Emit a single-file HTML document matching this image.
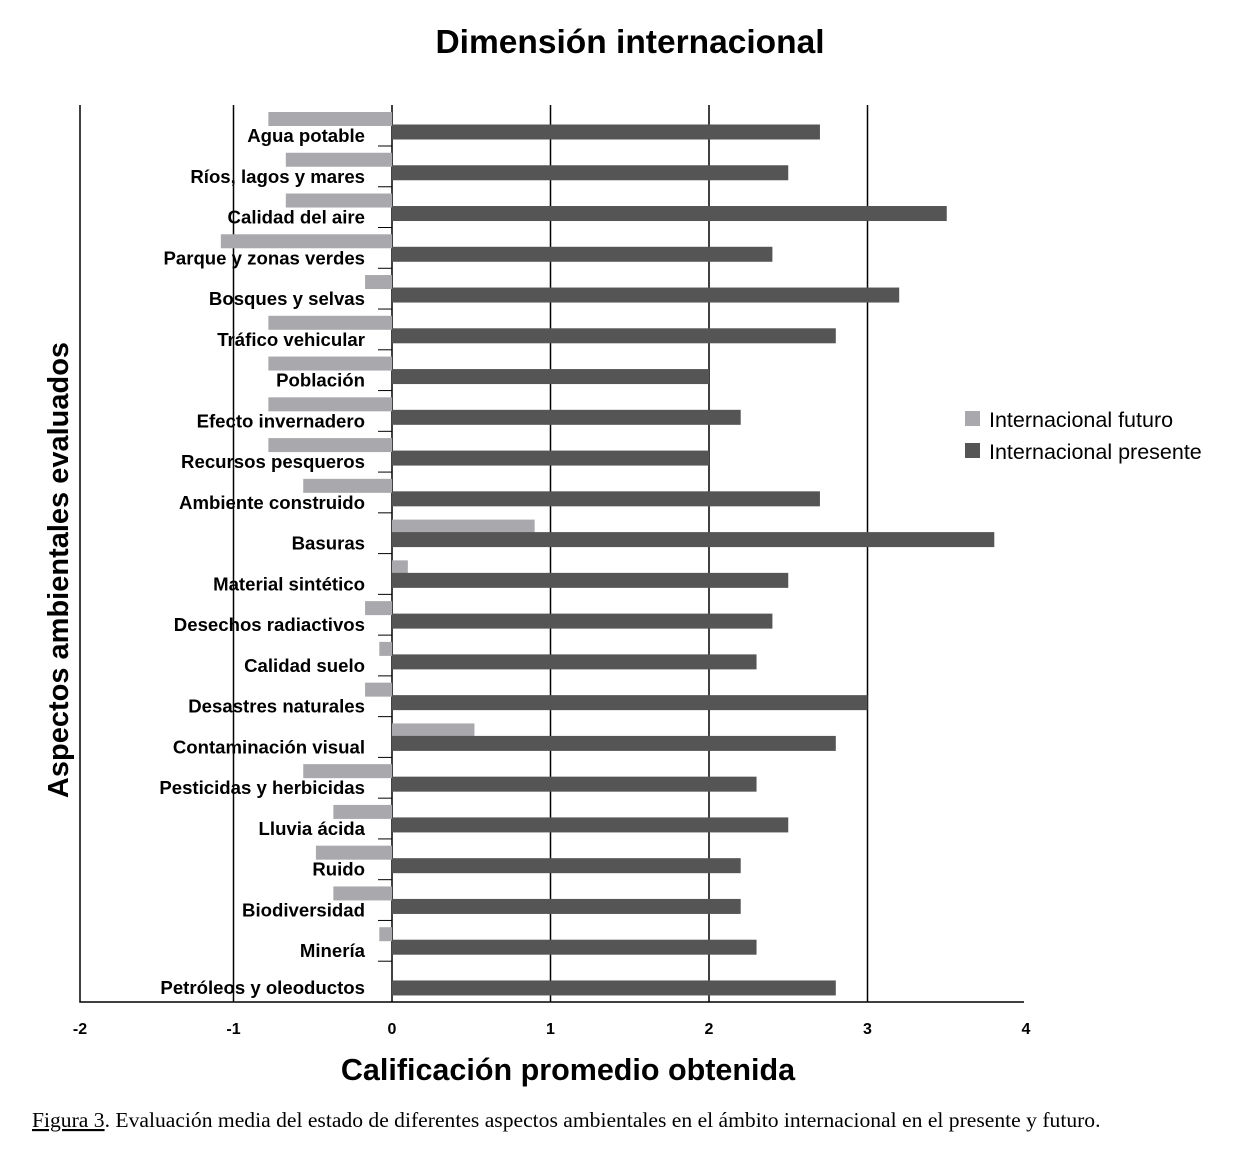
<!DOCTYPE html>
<html><head><meta charset="utf-8"><style>
body{margin:0;background:#fff;width:1245px;height:1158px;overflow:hidden}
svg{display:block}
</style></head><body>
<svg width="1245" height="1158" id="c" font-family="Liberation Sans, sans-serif">
<text x="630" y="53" text-anchor="middle" font-size="33.5" font-weight="bold">Dimensión internacional</text>
<text x="568" y="1080" text-anchor="middle" font-size="30.5" font-weight="bold">Calificación promedio obtenida</text>
<text transform="translate(68,570) rotate(-90)" text-anchor="middle" font-size="29" font-weight="bold">Aspectos ambientales evaluados</text>
<text x="32" y="1127" font-family="Liberation Serif, serif" font-size="21.6"><tspan text-decoration="underline">Figura 3</tspan>. Evaluación media del estado de diferentes aspectos ambientales en el ámbito internacional en el presente y futuro.</text>
<g>
<rect x="965" y="411" width="15" height="15" fill="#a9a9ad"/>
<text x="989" y="427" font-size="21.5">Internacional futuro</text>
<rect x="965" y="443" width="15" height="15" fill="#555"/>
<text x="989" y="459" font-size="21.5">Internacional presente</text>
</g>
</svg>
<script>
const categories=["Agua potable","Ríos, lagos y mares","Calidad del aire","Parque y zonas verdes","Bosques y selvas","Tráfico vehicular","Población","Efecto invernadero","Recursos pesqueros","Ambiente construido","Basuras","Material sintético","Desechos radiactivos","Calidad suelo","Desastres naturales","Contaminación visual","Pesticidas y herbicidas","Lluvia ácida","Ruido","Biodiversidad","Minería","Petróleos y oleoductos"];
const presente=[2.7,2.5,3.5,2.4,3.2,2.8,2.0,2.2,2.0,2.7,3.8,2.5,2.4,2.3,3.0,2.8,2.3,2.5,2.2,2.2,2.3,2.8];
const futuro=[-0.78,-0.67,-0.67,-1.08,-0.17,-0.78,-0.78,-0.78,-0.78,-0.56,0.9,0.1,-0.17,-0.08,-0.17,0.52,-0.56,-0.37,-0.48,-0.37,-0.08,0];
const xTicks=[-2,-1,0,1,2,3,4];
const NS="http://www.w3.org/2000/svg";
const svg=document.getElementById('c');
const x=v=>392+(v)*158.5;
const yRow=i=>132+i*40.76;
function mk(t,a,p){const e=document.createElementNS(NS,t);for(const k in a)e.setAttribute(k,a[k]);(p||svg).appendChild(e);return e;}
const g=mk('g',{});
xTicks.forEach(t=>{
  if(t>-2&&t<4){const l=mk('line',{x1:x(t),x2:x(t),y1:105,y2:1002,stroke:'#000','stroke-width':1.5},g);
  
  }
  const tx=mk('text',{x:t==-2?80:(t==4?1026:x(t)),y:1034,'text-anchor':'middle','font-size':16,'font-weight':'bold'},g);
  tx.textContent=t;
  
  
});
const ax=mk('path',{d:'M80,105 V1002 H1024',fill:'none',stroke:'#000','stroke-width':1.5},g);


categories.forEach((c,i)=>{
  const yc=yRow(i);
  const last=i===categories.length-1;
  const f=futuro[i];
  if(f!==0){const r=mk('rect',{x:Math.min(x(0),x(f)),y:yc-20,width:Math.abs(x(f)-x(0)),height:14,fill:'#a9a9ad'},g);
  
  }
  const p=presente[i];
  const r2=mk('rect',{x:x(0),y:yc-7.5,width:x(p)-x(0),height:15,fill:'#555'},g);
  
  
  const t=mk('text',{x:365,y:last?yc+6:yc+10,'text-anchor':'end','font-size':18.6,'font-weight':'bold'},g);
  t.textContent=c;
  
  
  if(!last){const tk=mk('line',{x1:378,x2:392,y1:yc+14,y2:yc+14,stroke:'#000','stroke-width':1},g);
  
  }
});
</script>
</body></html>
